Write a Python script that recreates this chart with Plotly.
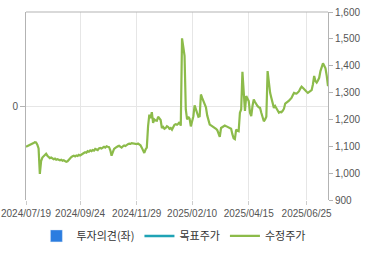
import pandas as pd
import plotly.graph_objects as go

# Korean market holidays in the period (no trading)
holidays = ["2024-08-15", "2024-09-16", "2024-09-17", "2024-09-18", "2024-10-01",
            "2024-10-03", "2024-10-09", "2024-12-25", "2024-12-31", "2025-01-01",
            "2025-01-27", "2025-01-28", "2025-01-29", "2025-01-30", "2025-03-03",
            "2025-05-01", "2025-05-05", "2025-05-06", "2025-06-03", "2025-06-06"]

# 수정주가 (adjusted price), one value per trading day from 2024/07/19
price = [
    1098, 1100, 1103, 1106, 1108, 1110, 1112, 1115, 1114, 1106,
    1092, 997, 1045, 1058, 1064, 1068, 1072, 1065, 1060, 1056,
    1058, 1054, 1052, 1054, 1050, 1052, 1050, 1048, 1050, 1046,
    1048, 1045, 1042, 1044, 1050, 1056, 1060, 1063, 1065, 1062,
    1066, 1064, 1068, 1066, 1070, 1072, 1075, 1078, 1076, 1082,
    1080, 1085, 1082, 1086, 1084, 1090, 1088, 1086, 1092, 1094,
    1092, 1096, 1098, 1095, 1100, 1098, 1097, 1085, 1065, 1078,
    1090, 1094, 1098, 1100, 1102, 1098, 1095, 1100, 1103, 1101,
    1106, 1108, 1110, 1109, 1112, 1111, 1112, 1110, 1108, 1110,
    1106, 1104, 1095, 1082, 1075, 1088, 1095, 1174, 1218, 1205,
    1227, 1187, 1200, 1196, 1195, 1210, 1205, 1198, 1168, 1172,
    1165, 1168, 1175, 1172, 1165, 1168, 1162, 1175, 1180, 1182,
    1180, 1184, 1190, 1177, 1502, 1470, 1437, 1237, 1200, 1210,
    1203, 1174, 1195, 1212, 1252, 1237, 1218, 1210, 1212, 1293,
    1280, 1268, 1255, 1245, 1215, 1195, 1181, 1178, 1175, 1172,
    1170, 1165, 1160, 1150, 1135, 1168, 1172, 1175, 1177, 1175,
    1172, 1170, 1168, 1165, 1145, 1130, 1127, 1162, 1158, 1156,
    1225, 1237, 1377, 1287, 1232, 1287, 1275, 1268, 1225, 1212,
    1250, 1274, 1265, 1256, 1250, 1245, 1243, 1225, 1210, 1193,
    1200, 1210, 1380, 1330, 1299, 1280, 1262, 1243, 1250, 1243,
    1232, 1225, 1228, 1227, 1232, 1240, 1259, 1262, 1264, 1270,
    1275, 1280, 1290, 1299, 1297, 1296, 1300, 1305, 1315, 1322,
    1318, 1312, 1305, 1303, 1299, 1302, 1305, 1309, 1330, 1362,
    1343, 1337, 1345, 1355, 1380, 1395, 1409, 1400, 1390, 1362,
    1324,
]

tick_labels = ["2024/07/19", "2024/09/24", "2024/11/29", "2025/02/10", "2025/04/15", "2025/06/25"]
right_ticks = [900, 1000, 1100, 1200, 1300, 1400, 1500, 1600]

days = pd.bdate_range("2024-07-19", "2025-08-29")
days = [d for d in days if d.strftime("%Y-%m-%d") not in holidays]
dates = [d.strftime("%Y/%m/%d") for d in days][:len(price)]

fig = go.Figure()
fig.add_trace(go.Bar(x=[dates[0]], y=[None], name="투자의견(좌)",
                     marker_color="#2b7de0", yaxis="y"))
fig.add_trace(go.Scatter(x=[dates[0]], y=[None], name="목표주가", mode="lines",
                         line=dict(color="#1fa3b5", width=2.5), yaxis="y2"))
fig.add_trace(go.Scatter(x=dates, y=price, name="수정주가", mode="lines",
                         line=dict(color="#8cbb4a", width=2.2), yaxis="y2"))

axis_font = dict(family="Liberation Sans, Arial, sans-serif", size=10, color="#555555")
fig.update_layout(
    width=370, height=255,
    margin=dict(l=26, r=42, t=12, b=55, autoexpand=False),
    paper_bgcolor="white", plot_bgcolor="white",
    showlegend=True,
    xaxis=dict(type="category", range=[0, len(price) - 1], automargin=False,
               tickmode="array", tickvals=tick_labels, ticktext=tick_labels,
               showgrid=True, gridcolor="#e6e6e6", gridwidth=1,
               showline=False, ticks="outside", ticklen=4, tickcolor="#cccccc",
               tickfont=axis_font, tickangle=0),
    yaxis=dict(range=[-1, 1], tickmode="array", tickvals=[0], ticktext=["0"],
               automargin=False,
               showgrid=True, gridcolor="#e6e6e6", zeroline=False,
               showline=True, linecolor="#b3b3b3", linewidth=1,
               ticks="outside", ticklen=5, tickcolor="#b3b3b3", tickfont=axis_font),
    yaxis2=dict(overlaying="y", side="right", range=[900, 1600], automargin=False,
                tickmode="array", tickvals=right_ticks,
                ticktext=[f"{v:,}" for v in right_ticks],
                showgrid=False, zeroline=False,
                showline=True, linecolor="#b3b3b3", linewidth=1,
                ticks="outside", ticklen=4, tickcolor="#b3b3b3", tickfont=axis_font),
    legend=dict(orientation="h", xref="container", x=0.47, xanchor="center",
                yref="container", y=0.075, yanchor="middle",
                font=dict(family="Noto Sans CJK KR", size=11, color="#333333"),
                traceorder="normal", itemwidth=30, bgcolor="rgba(0,0,0,0)"),
    shapes=[dict(type="line", xref="paper", yref="paper", x0=0, x1=1, y0=1, y1=1,
                 line=dict(color="#b3b3b3", width=1))],
)

fig.write_html("out.html")
